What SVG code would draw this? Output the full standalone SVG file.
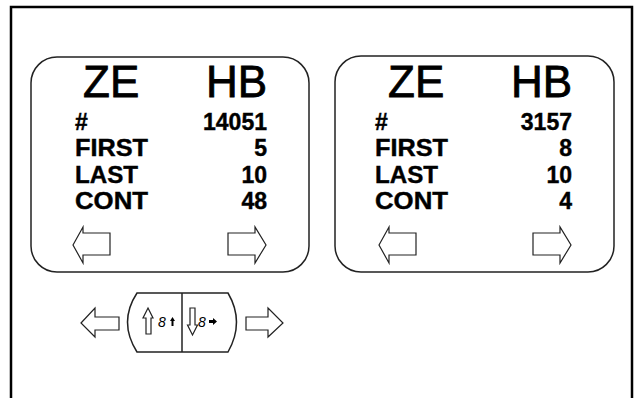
<svg xmlns="http://www.w3.org/2000/svg" width="634" height="398" viewBox="0 0 634 398">
<style>
.panel{fill:#fff;stroke:#222;stroke-width:1.5}
.big{font-family:"Liberation Sans",Arial,sans-serif;font-size:44px;fill:#000;stroke:#000;stroke-width:0.8}
.row{font-family:"Liberation Sans",Arial,sans-serif;font-size:23px;font-weight:bold;fill:#000;stroke:#000;stroke-width:0.4}
.end{text-anchor:end}
.arr{fill:#fff;stroke:#222;stroke-width:1.2;stroke-linejoin:miter}
.btn{fill:#fff;stroke:#222;stroke-width:1.5}
.seg{font-family:"Liberation Sans",Arial,sans-serif;font-size:14px;font-style:italic;fill:#000}
</style>
<defs>
<polygon id="la" class="arr" points="73,245 83,227 83,233 110,233 110,255 83,255 83,263"/>
<polygon id="ra" class="arr" points="228,233 255,233 255,227 266,245 255,263 255,255 228,255"/>
</defs>
<rect x="11" y="7" width="621" height="400" fill="#fff" stroke="#000" stroke-width="2.5"/>
<g id="panel-left">
<rect class="panel" x="31" y="57" width="278" height="215" rx="26" ry="26"/>
<text class="big" x="83" y="97">ZE</text>
<text class="big end" x="267" y="97">HB</text>
<text class="row" x="75" y="130">#</text>
<text class="row end" x="267" y="130">14051</text>
<text class="row" x="75" y="156" textLength="73" lengthAdjust="spacingAndGlyphs">FIRST</text>
<text class="row end" x="267" y="156">5</text>
<text class="row" x="75" y="183" textLength="63" lengthAdjust="spacingAndGlyphs">LAST</text>
<text class="row end" x="267" y="183">10</text>
<text class="row" x="75" y="209" textLength="73" lengthAdjust="spacingAndGlyphs">CONT</text>
<text class="row end" x="267" y="209">48</text>
<use href="#la"/>
<use href="#ra"/>
</g>
<g id="panel-right">
<rect class="panel" x="335" y="56" width="279" height="216" rx="26" ry="26"/>
<text class="big" x="388" y="97">ZE</text>
<text class="big end" x="572" y="97">HB</text>
<text class="row" x="375" y="130">#</text>
<text class="row end" x="572" y="130">3157</text>
<text class="row" x="375" y="156" textLength="73" lengthAdjust="spacingAndGlyphs">FIRST</text>
<text class="row end" x="572" y="156">8</text>
<text class="row" x="375" y="183" textLength="63" lengthAdjust="spacingAndGlyphs">LAST</text>
<text class="row end" x="572" y="183">10</text>
<text class="row" x="375" y="209" textLength="73" lengthAdjust="spacingAndGlyphs">CONT</text>
<text class="row end" x="572" y="209">4</text>
<use href="#la" transform="translate(306,0)"/>
<use href="#ra" transform="translate(305,0)"/>
</g>
<g id="button">
<path class="btn" d="M137,293 L228,293 Q245,322 228,352 L137,352 Q118,322 137,293 Z"/>
<line x1="182" y1="293" x2="182" y2="352" stroke="#222" stroke-width="1.5"/>
<polygon class="arr" points="148,308 153,318 151,318 151,334 146,334 146,318 143,318"/>
<text class="seg" x="158" y="327">8</text>
<polygon fill="#000" points="172.5,317 175,321 173.5,321 173.5,326 171.5,326 171.5,321 170,321"/>
<polygon class="arr" points="190,308 195,308 195,325 197.5,325 192.5,335 187.5,325 190,325"/>
<text class="seg" x="198" y="327">8</text>
<polygon fill="#000" points="209,320 213,320 213,318 217,321.5 213,325 213,323 209,323"/>
</g>
<g id="connectors">
<polygon class="arr" points="81,323 95,308 95,317 119,317 119,330 95,330 95,337"/>
<polygon class="arr" points="246,317 268,317 268,308 283,323 268,337 268,330 246,330"/>
</g>
</svg>
